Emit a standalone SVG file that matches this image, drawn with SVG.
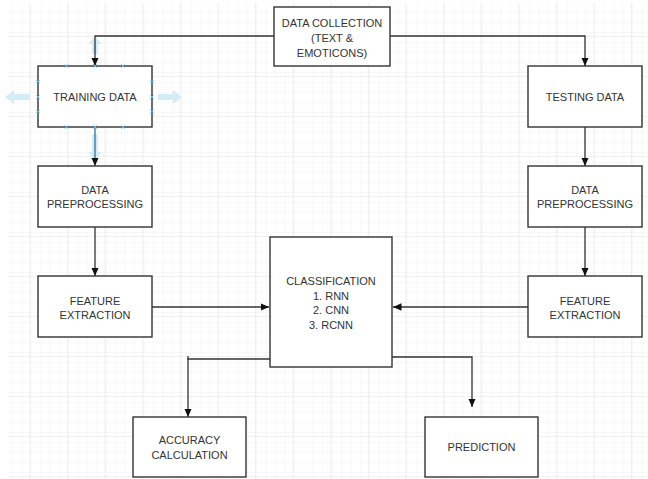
<svg xmlns="http://www.w3.org/2000/svg" width="648" height="479" viewBox="0 0 648 479">
<defs>
<pattern id="minor" patternUnits="userSpaceOnUse" x="29.5" y="36" width="9.4" height="10">
<path d="M0 0V10M0 0H9.4" fill="none" stroke="#f2f2f2" stroke-width="1"/>
</pattern>
<pattern id="major" patternUnits="userSpaceOnUse" x="29.5" y="36" width="37.6" height="40">
<rect width="37.6" height="40" fill="url(#minor)"/>
<path d="M0 0V40M0 0H37.6" fill="none" stroke="#e4e4e4" stroke-width="1.2"/>
</pattern>
<marker id="arr" markerUnits="userSpaceOnUse" markerWidth="9" markerHeight="9" viewBox="0 0 9 9" refX="8.5" refY="4.5" orient="auto">
<path d="M0 0.8L8.5 4.5L0 8.2z" fill="#111"/>
</marker>
<style>
.box{fill:#fff;stroke:#333;stroke-width:1.4}
.t{font-family:"Liberation Sans",Arial,sans-serif;font-size:11px;fill:#333;text-anchor:middle}
.c{fill:none;stroke:#333;stroke-width:1.3;marker-end:url(#arr)}
.hl{fill:#d4ecf8}
.x{stroke:#5bb4e5;stroke-width:1}
</style>
</defs>
<rect width="648" height="479" fill="#fff"/>
<rect x="8" y="3" width="640" height="476" fill="url(#major)"/>

<g id="hover">
<path class="hl" d="M5 97L14 90V94H30V100H14V104z"/>
<path class="hl" d="M182 97L173 90V94H158V100H173V104z"/>
<path class="hl" d="M95 36L88 44H92V54H98V44H102z"/>
<path class="hl" d="M95 160L88 152H92V134H98V152H102z"/>
</g>

<g id="connectors">
<path class="c" d="M274 36H95V66"/>
<path class="c" d="M390 36H585V66"/>
<path class="c" d="M95 127V166" style="stroke:#3d6f8f"/>
<path class="c" d="M95 227V276"/>
<path class="c" d="M585 127V166"/>
<path class="c" d="M585 227V276"/>
<path class="c" d="M152 307H269"/>
<path class="c" d="M528 307H393"/>
<path class="c" d="M270 359H188V417"/>
<path class="c" d="M188 356V360" style="marker-end:none"/>
<path class="c" d="M392 357H472V407"/>
</g>

<g id="data-collection">
<rect class="box" x="274" y="7" width="116" height="59"/>
<text class="t" x="332" y="27">DATA COLLECTION</text>
<text class="t" x="332" y="42">(TEXT &amp;</text>
<text class="t" x="332" y="57">EMOTICONS)</text>
</g>

<g id="training-data">
<rect class="box" x="38" y="66" width="114" height="61"/>
<text class="t" x="95" y="101">TRAINING DATA</text>
<g class="x">
<path d="M65 64.5l3 3M68 64.5l-3 3M93.5 64.5l3 3M96.5 64.5l-3 3M121.5 64.5l3 3M124.5 64.5l-3 3"/>
<path d="M65 125.5l3 3M68 125.5l-3 3M93.5 125.5l3 3M96.5 125.5l-3 3M121.5 125.5l3 3M124.5 125.5l-3 3"/>
<path d="M36.5 80l3 3M39.5 80l-3 3M36.5 95.5l3 3M39.5 95.5l-3 3M36.5 110l3 3M39.5 110l-3 3"/>
<path d="M150.5 80l3 3M153.5 80l-3 3M150.5 95.5l3 3M153.5 95.5l-3 3M150.5 110l3 3M153.5 110l-3 3"/>
</g>
</g>

<g id="testing-data">
<rect class="box" x="528" y="66" width="114" height="61"/>
<text class="t" x="585" y="101">TESTING DATA</text>
</g>

<g id="preprocessing-left">
<rect class="box" x="38" y="166" width="114" height="61"/>
<text class="t" x="95" y="194">DATA</text>
<text class="t" x="95" y="208">PREPROCESSING</text>
</g>

<g id="preprocessing-right">
<rect class="box" x="528" y="166" width="114" height="61"/>
<text class="t" x="585" y="194">DATA</text>
<text class="t" x="585" y="208">PREPROCESSING</text>
</g>

<g id="feature-left">
<rect class="box" x="38" y="276" width="114" height="61"/>
<text class="t" x="95" y="305">FEATURE</text>
<text class="t" x="95" y="319">EXTRACTION</text>
</g>

<g id="feature-right">
<rect class="box" x="528" y="276" width="114" height="61"/>
<text class="t" x="585" y="305">FEATURE</text>
<text class="t" x="585" y="319">EXTRACTION</text>
</g>

<g id="classification">
<rect class="box" x="270" y="237" width="122" height="130"/>
<text class="t" x="331" y="285">CLASSIFICATION</text>
<text class="t" x="331" y="299.5">1. RNN</text>
<text class="t" x="331" y="314">2. CNN</text>
<text class="t" x="331" y="328.5">3. RCNN</text>
</g>

<g id="accuracy">
<rect class="box" x="133" y="417" width="113" height="60"/>
<text class="t" x="189.5" y="444">ACCURACY</text>
<text class="t" x="189.5" y="459">CALCULATION</text>
</g>

<g id="prediction">
<rect class="box" x="425" y="417" width="113" height="60"/>
<text class="t" x="481.5" y="451">PREDICTION</text>
</g>
</svg>
